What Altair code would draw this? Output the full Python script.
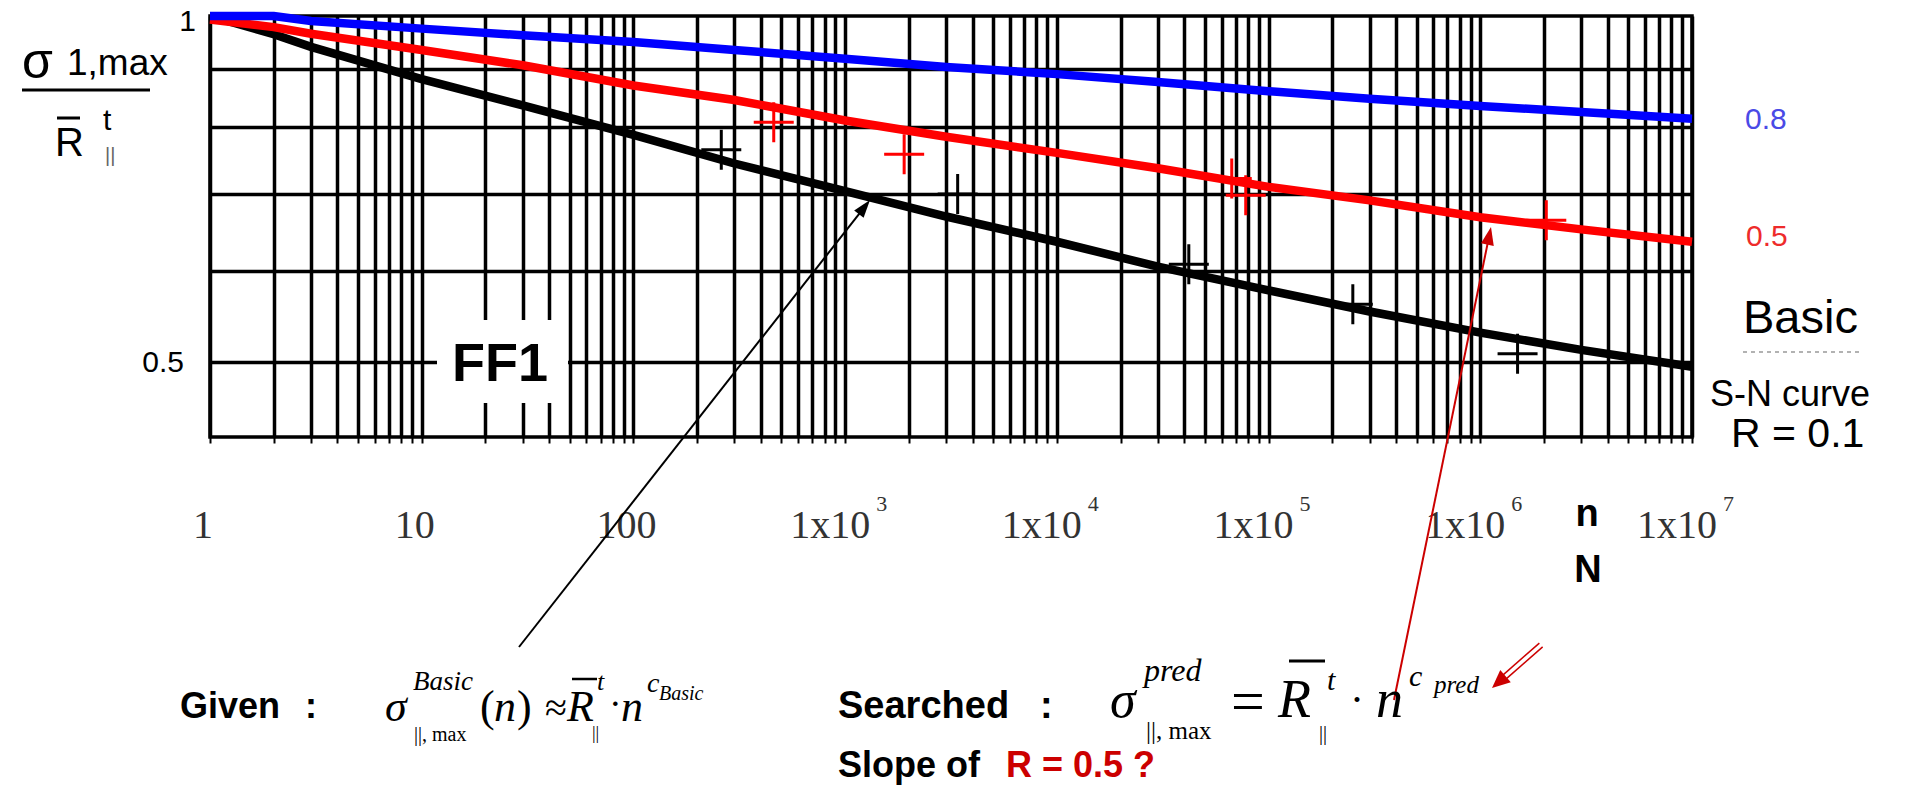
import math
import altair as alt
import pandas as pd

# ---------------- data ----------------
cycles = [1, 2, 3, 10, 30, 100, 300, 1e3, 3e3, 1e4, 3e4, 1e5, 3e5, 1e6, 3e6, 1e7]
basic_r01 = [1.000, 0.964, 0.940, 0.881, 0.836, 0.788, 0.744, 0.704, 0.669, 0.636,
             0.605, 0.577, 0.553, 0.530, 0.512, 0.495]
ratio_r05 = [0.993, 0.978, 0.965, 0.934, 0.906, 0.870, 0.845, 0.811, 0.785, 0.760,
             0.737, 0.710, 0.691, 0.668, 0.652, 0.636]
ratio_r08 = [1.000, 1.000, 0.990, 0.975, 0.962, 0.949, 0.934, 0.918, 0.903, 0.890,
             0.876, 0.860, 0.847, 0.835, 0.825, 0.814]

black_cross_n = [260, 3400, 42000, 250000, 1.5e6]
black_cross_v = [0.765, 0.700, 0.608, 0.561, 0.508]
red_cross_n = [460, 1900, 67000, 78000, 2.05e6]
red_cross_v = [0.808, 0.758, 0.722, 0.698, 0.664]

tick_values = [1, 10, 100, 1e3, 1e4, 1e5, 1e6, 1e7]
tick_base = ["1", "10", "100", "1x10", "1x10", "1x10", "1x10", "1x10"]
tick_exp = ["", "", "", "3", "4", "5", "6", "7"]
grid_n = [k * 10 ** e for e in range(0, 7) for k in range(1, 10)] + [1e7]
grid_v = [0.5, 0.6, 0.7, 0.8, 0.9]

series_names = ["R = 0.1", "R = 0.5", "R = 0.8"]
series_colors = ["#000000", "#FF0000", "#0000FF"]

# ---------------- layout ----------------
PX0, PY0 = 210, 16
W, H = 1482, 421
SANS = "Liberation Sans"
SERIF = "Liberation Serif"

rows = []
for name, vals in zip(series_names, [basic_r01, ratio_r05, ratio_r08]):
    for i, (n, v) in enumerate(zip(cycles, vals)):
        rows.append({"series": name, "n": n, "v": v, "i": i})
curve_df = pd.DataFrame(rows)

cross_df = pd.DataFrame(
    [{"series": "R = 0.1", "n": n, "v": v} for n, v in zip(black_cross_n, black_cross_v)]
    + [{"series": "R = 0.5", "n": n, "v": v} for n, v in zip(red_cross_n, red_cross_v)]
)
tick_df = pd.DataFrame({"n": tick_values, "base": tick_base, "exp": tick_exp})

xscale = alt.Scale(type="log", domain=[1, 1e7], nice=False)
yscale = alt.Scale(type="log", domain=[0.43, 1], nice=False)
xaxis = alt.Axis(values=grid_n, grid=True, gridColor="black", gridWidth=3.5, gridOpacity=1,
                 labels=False, ticks=True, tickColor="black", tickWidth=2, tickSize=6,
                 domain=False, title=None)
yaxis = alt.Axis(values=grid_v, grid=True, gridColor="black", gridWidth=3.5, gridOpacity=1,
                 labels=False, ticks=False, domain=False, title=None)
X = alt.X("n:Q", scale=xscale, axis=xaxis)
Y = alt.Y("v:Q", scale=yscale, axis=yaxis)
C = alt.Color("series:N", scale=alt.Scale(domain=series_names, range=series_colors), legend=None)

one = pd.DataFrame({"k": [0]})
layers = []


def rect(x1, y1, x2, y2, color="white"):
    layers.append(alt.Chart(one).mark_rect(color=color, opacity=1).encode(
        x=alt.value(x1 - PX0), x2=alt.value(x2 - PX0),
        y=alt.value(y1 - PY0), y2=alt.value(y2 - PY0)))


def rule(x1, y1, x2, y2, color="black", width=2.0, dash=None):
    kw = dict(color=color, strokeWidth=width)
    if dash:
        kw["strokeDash"] = dash
    layers.append(alt.Chart(one).mark_rule(**kw).encode(
        x=alt.value(x1 - PX0), y=alt.value(y1 - PY0),
        x2=alt.value(x2 - PX0), y2=alt.value(y2 - PY0)))


def text(s, x, y, size, font=SANS, style="normal", weight="normal", color="black", align="left"):
    layers.append(alt.Chart(one).mark_text(
        text=s, font=font, fontSize=size, fontStyle=style, fontWeight=weight,
        color=color, align=align, baseline="alphabetic").encode(
        x=alt.value(x - PX0), y=alt.value(y - PY0)))


def arrow(x1, y1, x2, y2, color="black", width=2.0, head_len=18, head_w=12, double=False):
    dx, dy = x2 - x1, y2 - y1
    L = math.hypot(dx, dy)
    ux, uy = dx / L, dy / L
    ang = math.degrees(math.atan2(ux, -uy)) % 360
    r = head_len / 1.7
    cx, cy = x2 - ux * r, y2 - uy * r
    ex, ey = x2 - ux * head_len * 0.8, y2 - uy * head_len * 0.8
    if double:
        ox, oy = -uy * 2.5, ux * 2.5
        rule(x1 + ox, y1 + oy, ex + ox, ey + oy, color, width)
        rule(x1 - ox, y1 - oy, ex - ox, ey - oy, color, width)
    else:
        rule(x1, y1, ex, ey, color, width)
    hw = head_w / 2 / r
    shape = f"M0,-1L{hw:.3f},0.7L{-hw:.3f},0.7Z"
    layers.append(alt.Chart(one).mark_point(
        shape=shape, filled=True, size=(2 * r) ** 2, angle=ang, color=color, opacity=1,
        strokeWidth=0).encode(x=alt.value(cx - PX0), y=alt.value(cy - PY0)))


# white box behind "FF1"
rect(437, 320, 568, 403)

# curves and measured points
layers.append(alt.Chart(curve_df).mark_line(strokeWidth=8.5, strokeCap="butt").encode(
    x=X, y=Y, color=C, order="i:Q"))
layers.append(alt.Chart(cross_df).mark_point(
    shape="M-1,0L1,0M0,-1L0,1", filled=False, strokeWidth=3, size=1600, opacity=1).encode(
    x=X, y=Y, color=C))

# x tick labels
plain = tick_df[tick_df["exp"] == ""]
sci = tick_df[tick_df["exp"] != ""]
layers.append(alt.Chart(plain).mark_text(font=SERIF, fontSize=40, color="#333333", dx=-7,
                                         baseline="alphabetic").encode(
    x=X, y=alt.value(538 - PY0), text="base:N"))
layers.append(alt.Chart(sci).mark_text(font=SERIF, fontSize=40, color="#333333", dx=-15,
                                       baseline="alphabetic").encode(
    x=X, y=alt.value(538 - PY0), text="base:N"))
layers.append(alt.Chart(sci).mark_text(font=SERIF, fontSize=22, color="#333333", dx=31,
                                       align="left", baseline="alphabetic").encode(
    x=X, y=alt.value(511 - PY0), text="exp:N"))

# y tick labels
text("1", 196, 31, 30, SANS, align="right")
text("0.5", 184, 372, 30, SANS, align="right")

# y axis title: sigma_1,max / R_||^t
text("σ", 22, 78, 50, SANS)
text("1,max", 67, 75, 37, SANS)
rule(22, 90, 150, 90, "black", 3)
text("R", 55, 156, 40, SANS)
rule(57, 118, 80, 118, "black", 3)
text("t", 103, 130, 30, SANS)
text("||", 105, 162, 20, SANS, color="#666666")

# FF1 label
text("FF1", 500, 381, 54, SANS, weight="bold", align="center")

# right-hand labels
text("0.8", 1745, 129, 30, SANS, color="#4a4ae6")
text("0.5", 1746, 246, 30, SANS, color="#ee2b2b")
text("Basic", 1743, 333, 47, SANS)
rule(1743, 352, 1860, 352, "#999999", 1.5, [4, 4])
text("S-N curve", 1710, 406, 36, SANS)
text("R  = 0.1", 1731, 447, 41, SANS)
text("n", 1587, 526, 38, SANS, weight="bold", align="center")
text("N", 1588, 582, 38, SANS, weight="bold", align="center")

# arrows
arrow(519, 647, 870, 200, "black", 2, 18, 12)
arrow(1394, 700, 1491, 227, "#cc0000", 2, 18, 13)
arrow(1541, 645, 1492, 688, "#cc0000", 1.5, 18, 16, double=True)

# bottom text: Given
text("Given", 180, 718, 36, SANS, weight="bold")
text(":", 305, 718, 36, SANS, weight="bold")
text("σ", 385, 721, 44, SERIF, style="italic")
text("Basic", 413, 690, 27, SERIF, style="italic")
text("||,  max", 414, 741, 20, SERIF)
text("(", 480, 721, 44, SERIF)
text("n", 494, 721, 44, SERIF, style="italic")
text(")", 517, 721, 44, SERIF)
text("≈", 545, 721, 40, SERIF)
text("R", 567, 721, 44, SERIF, style="italic")
rule(572, 679, 597, 679, "black", 2.5)
text("t", 597, 690, 26, SERIF, style="italic")
text("||", 592, 739, 18, SERIF)
text("·", 609, 716, 38, SERIF)
text("n", 621, 721, 44, SERIF, style="italic")
text("c", 647, 692, 28, SERIF, style="italic")
text("Basic", 659, 700, 20, SERIF, style="italic")

# bottom text: Searched
text("Searched", 838, 718, 38, SANS, weight="bold")
text(":", 1040, 718, 38, SANS, weight="bold")
text("σ", 1110, 717, 52, SERIF, style="italic")
text("pred", 1144, 681, 32, SERIF, style="italic")
text("||, max", 1146, 739, 25, SERIF)
text("=", 1231, 721, 60, SERIF)
text("R", 1278, 717, 54, SERIF, style="italic")
rule(1289, 661, 1325, 661, "black", 3)
text("t", 1327, 690, 30, SERIF, style="italic")
text("||", 1319, 740, 20, SERIF)
text("·", 1350, 714, 42, SERIF)
text("n", 1376, 717, 54, SERIF, style="italic")
text("c", 1409, 686, 30, SERIF, style="italic")
text("pred", 1434, 693, 25, SERIF, style="italic")

# bottom text: Slope of R = 0.5 ?
text("Slope of", 838, 777, 36, SANS, weight="bold")
text("R = 0.5 ?", 1006, 777, 36, SANS, weight="bold", color="#cc0000")

chart = alt.layer(*layers).properties(
    width=W, height=H,
    padding={"left": PX0, "top": PY0, "right": 1915 - PX0 - W, "bottom": 793 - PY0 - H},
    autosize=alt.AutoSizeParams(type="none"),
    background="white",
).configure_view(stroke="black", strokeWidth=3.5)

chart.save("out.html", embed_options={"renderer": "svg", "actions": False})
